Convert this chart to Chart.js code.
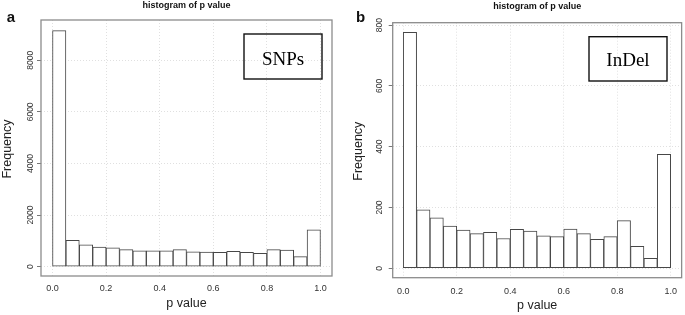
<!DOCTYPE html>
<html><head><meta charset="utf-8">
<script src="https://cdn.jsdelivr.net/npm/chart.js@4.4.1/dist/chart.umd.min.js"></script>
<style>
body{margin:0;background:#fff;width:685px;height:315px;overflow:hidden;position:relative}
canvas{position:absolute;top:0}
#ca{left:0}
#cb{left:340px}
</style></head><body>
<canvas id="ca" width="340" height="315"></canvas>
<canvas id="cb" width="345" height="315"></canvas>
<script>
// bin centres of the p-value histogram (bin width 0.05)
const binCenters = [0.025,0.075,0.125,0.175,0.225,0.275,0.325,0.375,0.425,0.475,
                    0.525,0.575,0.625,0.675,0.725,0.775,0.825,0.875,0.925,0.975];
// panel a: SNPs
const snpCounts = [9150,1020,850,760,735,660,620,620,620,660,
                   580,570,560,595,560,520,660,645,390,1430];
// panel b: InDel
const indelCounts = [776,192,166,139,126,114,118,98,128,122,
                     107,104,129,114,95,104,157,72,33,375];
const xTickValues = [0,0.2,0.4,0.6,0.8,1.0];
const snpYTicks = [0,2000,4000,6000,8000];
const indelYTicks = [0,200,400,600,800];
const titleText = 'histogram of p value';
const xTitle = 'p value';
const yTitle = 'Frequency';

function decor(o){
  return {id:'decor', afterDraw(chart){
    const ctx = chart.ctx, a = chart.chartArea, y = chart.scales.y;
    ctx.save();
    // plot box
    ctx.strokeStyle = '#8c8c8c'; ctx.lineWidth = 1.3;
    ctx.strokeRect(a.left, a.top, a.right - a.left, a.bottom - a.top);
    // y tick labels (rotated, R style)
    ctx.fillStyle = '#333';
    ctx.font = '8.5px "Liberation Sans", Arial, sans-serif';
    o.yTicks.forEach(v => {
      const py = y.getPixelForValue(v);
      ctx.save(); ctx.translate(o.yLabelX, py); ctx.rotate(-Math.PI/2);
      ctx.textAlign = 'center'; ctx.textBaseline = 'middle';
      ctx.fillText(String(v), 0, 0); ctx.restore();
    });
    // axis titles
    ctx.fillStyle = '#222';
    ctx.font = '12.5px "Liberation Sans", Arial, sans-serif';
    ctx.textAlign = 'center'; ctx.textBaseline = 'middle';
    ctx.fillText(xTitle, (a.left + a.right)/2, o.xTitleY);
    ctx.save(); ctx.translate(o.yTitleX, (a.top + a.bottom)/2 + 1); ctx.rotate(-Math.PI/2);
    ctx.fillText(yTitle, 0, 0); ctx.restore();
    // main title
    ctx.font = 'bold 9px "Liberation Sans", Arial, sans-serif';
    ctx.fillStyle = '#111';
    ctx.fillText(titleText, (a.left + a.right)/2, o.titleY);
    // panel letter
    ctx.font = 'bold 15px "Liberation Sans", Arial, sans-serif';
    ctx.textBaseline = 'alphabetic';
    ctx.fillText(o.letter, o.letterX, o.letterY);
    // legend box
    ctx.strokeStyle = '#111'; ctx.lineWidth = 1.4;
    ctx.strokeRect(o.lg[0], o.lg[1], o.lg[2] - o.lg[0], o.lg[3] - o.lg[1]);
    ctx.font = '19px "Liberation Serif", "Times New Roman", serif';
    ctx.fillStyle = '#000';
    ctx.fillText(o.legend, (o.lg[0] + o.lg[2])/2, o.legendBase);
    ctx.restore();
  }};
}

function makeChart(id, counts, o){
  const gridCol = 'rgba(0,0,0,0.12)';
  return new Chart(document.getElementById(id), {
    type: 'bar',
    data: {datasets: [{
      data: binCenters.map((c, i) => ({x: c, y: counts[i]})),
      backgroundColor: '#ffffff', borderColor: '#474747', borderWidth: 1,
      borderSkipped: false, barPercentage: 1, categoryPercentage: 1
    }]},
    options: {
      responsive: false, animation: false, events: [],
      layout: {padding: {top: o.top, right: o.right, left: 0, bottom: 0}},
      plugins: {legend: {display: false}, tooltip: {enabled: false}, title: {display: false}},
      scales: {
        x: {type: 'linear', min: o.xmin, max: o.xmax, offset: false,
          afterBuildTicks(s){ s.ticks = xTickValues.map(v => ({value: v})); },
          afterFit(s){ s.height = o.xh; },
          ticks: {font: {family: 'Liberation Sans', size: 9}, color: '#333', padding: o.xpad,
                  callback: v => Number(v).toFixed(1), maxRotation: 0, minRotation: 0, autoSkip: false},
          grid: {color: gridCol, offset: false, drawTicks: false, lineWidth: 1},
          border: {display: false, dash: [1, 2]}},
        y: {type: 'linear', min: o.ymin, max: o.ymax,
          afterBuildTicks(s){ s.ticks = o.yTicks.map(v => ({value: v})); },
          afterFit(s){ s.width = o.yw; },
          ticks: {display: false},
          grid: {color: gridCol, tickColor: '#777', tickLength: 4, drawTicks: true, lineWidth: 1},
          border: {display: false, dash: [1, 2]}}
      }
    },
    plugins: [decor(o)]
  });
}

makeChart('ca', snpCounts, {
  top: 20, right: 8, yw: 41, xh: 39, xpad: 7,
  xmin: -0.043, xmax: 1.043, ymin: -360, ymax: 9560,
  yTicks: snpYTicks, yLabelX: 31, xTitleY: 304, yTitleX: 8, titleY: 5.5,
  letter: 'a', letterX: 11, letterY: 22,
  lg: [244, 34, 322, 79], legend: 'SNPs', legendBase: 65
});
makeChart('cb', indelCounts, {
  top: 22.7, right: 2, yw: 52.7, xh: 37.3, xpad: 8,
  xmin: -0.0395, xmax: 1.041, ymin: -31, ymax: 808,
  yTicks: indelYTicks, yLabelX: 39.5, xTitleY: 306, yTitleX: 19, titleY: 7,
  letter: 'b', letterX: 20.5, letterY: 22,
  lg: [249, 36.7, 327, 81], legend: 'InDel', legendBase: 66
});
</script>
</body></html>
